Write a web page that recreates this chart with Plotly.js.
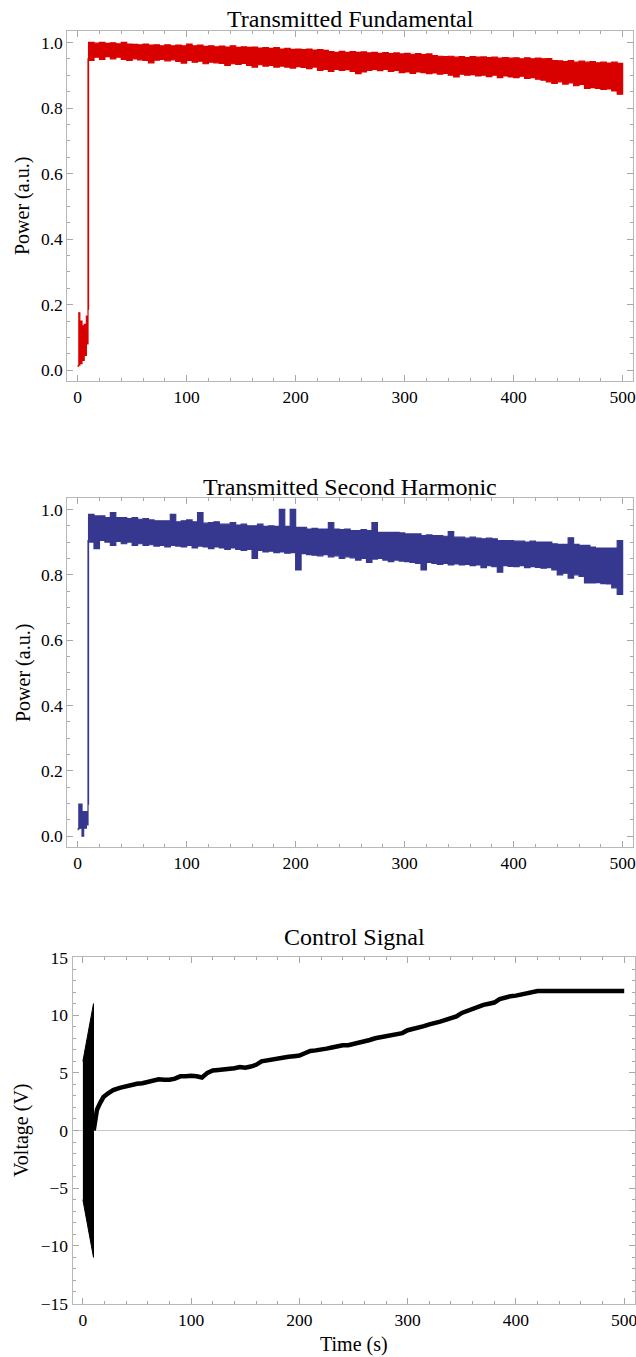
<!DOCTYPE html>
<html>
<head>
<meta charset="utf-8">
<script src="https://cdn.plot.ly/plotly-3.0.1.min.js"></script>
<style>html,body{margin:0;padding:0;background:#fff;}#chart{width:636px;height:1357px;}</style>
</head>
<body>
<div id="chart"></div>
<script>
// ---------- data ----------
const titles = ["Transmitted Fundamental", "Transmitted Second Harmonic", "Control Signal"];
const yLabels = ["Power (a.u.)", "Power (a.u.)", "Voltage (V)"];
const xLabel = "Time (s)";
const xTicks = [0, 100, 200, 300, 400, 500];

// sampling times (s) of the envelopes after lock
const tLock = [10,15,20,25,30,35,40,45,50,55,60,65,70,75,80,85,90,95,100,105,110,115,120,125,130,135,140,145,150,155,160,165,170,175,180,185,190,195,200,205,210,215,220,225,230,235,240,245,250,255,260,265,270,275,280,285,290,295,300,305,310,315,320,325,330,335,340,345,350,355,360,365,370,375,380,385,390,395,400,405,410,415,420,425,430,435,440,445,450,455,460,465,470,475,480,485,490,495,500];

// Transmitted fundamental: before lock
const fundT0 = [0.5, 2, 4, 6, 8, 9.5];
const fundUpper0 = [0.175, 0.15, 0.135, 0.14, 0.165, 0.186];
const fundLower0 = [0.01, 0.015, 0.02, 0.03, 0.045, 0.08];
// after lock (upper / lower edge of the noisy trace)
const fundUpper = [1.0,0.998,1.0,0.997,0.999,0.996,1.0,0.995,0.994,0.993,0.995,0.992,0.993,0.99,0.993,0.99,0.992,0.99,0.995,0.99,0.992,0.988,0.99,0.987,0.989,0.986,0.99,0.985,0.987,0.985,0.986,0.983,0.984,0.982,0.984,0.98,0.982,0.979,0.98,0.978,0.98,0.977,0.978,0.976,0.972,0.97,0.973,0.97,0.972,0.97,0.971,0.968,0.97,0.967,0.969,0.966,0.968,0.965,0.967,0.964,0.966,0.963,0.965,0.96,0.958,0.957,0.958,0.955,0.957,0.954,0.957,0.955,0.956,0.954,0.955,0.952,0.954,0.952,0.953,0.95,0.953,0.95,0.952,0.95,0.951,0.945,0.944,0.942,0.945,0.94,0.943,0.94,0.942,0.938,0.94,0.937,0.94,0.936,0.935];
const fundLower = [0.95,0.945,0.955,0.948,0.957,0.95,0.955,0.948,0.945,0.95,0.947,0.945,0.938,0.946,0.948,0.944,0.947,0.942,0.937,0.945,0.94,0.943,0.935,0.94,0.938,0.936,0.93,0.935,0.933,0.936,0.93,0.925,0.932,0.928,0.93,0.925,0.928,0.925,0.922,0.926,0.924,0.92,0.925,0.915,0.918,0.912,0.918,0.915,0.917,0.912,0.905,0.91,0.915,0.918,0.914,0.918,0.912,0.915,0.908,0.91,0.906,0.91,0.908,0.905,0.907,0.903,0.906,0.9,0.895,0.903,0.9,0.902,0.898,0.9,0.896,0.9,0.893,0.898,0.895,0.893,0.897,0.89,0.893,0.888,0.885,0.88,0.875,0.88,0.873,0.877,0.868,0.872,0.86,0.862,0.86,0.857,0.858,0.852,0.842];

// Transmitted second harmonic: before lock
const shgT0 = [0.5, 2, 4, 5.5, 6.5, 8, 9.5];
const shgUpper0 = [0.098, 0.098, 0.075, 0.075, 0.075, 0.075, 0.098];
const shgLower0 = [0.018, 0.023, 0.025, 0.0, 0.025, 0.025, 0.035];
// after lock
const shgUpper = [0.985,0.98,0.98,0.975,0.99,0.975,0.975,0.972,0.975,0.97,0.972,0.968,0.965,0.965,0.965,0.985,0.962,0.965,0.968,0.962,0.99,0.958,0.96,0.962,0.955,0.955,0.96,0.952,0.955,0.95,0.95,0.955,0.948,0.95,0.948,1.0,0.948,1.0,0.945,0.945,0.94,0.942,0.94,0.94,0.96,0.94,0.938,0.94,0.935,0.935,0.938,0.935,0.96,0.93,0.93,0.93,0.93,0.928,0.925,0.925,0.925,0.92,0.922,0.92,0.92,0.918,0.932,0.915,0.915,0.912,0.915,0.912,0.91,0.912,0.91,0.905,0.905,0.905,0.903,0.903,0.9,0.903,0.9,0.9,0.9,0.895,0.893,0.893,0.913,0.893,0.89,0.89,0.885,0.882,0.882,0.882,0.882,0.905,0.87];
const shgLower = [0.905,0.9,0.88,0.905,0.9,0.89,0.902,0.895,0.9,0.89,0.895,0.89,0.892,0.888,0.89,0.885,0.89,0.888,0.885,0.89,0.882,0.888,0.885,0.88,0.885,0.882,0.878,0.882,0.878,0.875,0.878,0.85,0.875,0.87,0.872,0.868,0.87,0.866,0.868,0.815,0.865,0.862,0.86,0.858,0.862,0.855,0.858,0.85,0.855,0.852,0.845,0.85,0.838,0.848,0.85,0.845,0.84,0.845,0.842,0.84,0.838,0.835,0.815,0.838,0.835,0.832,0.835,0.83,0.833,0.83,0.832,0.828,0.83,0.822,0.828,0.825,0.808,0.828,0.826,0.825,0.828,0.822,0.825,0.823,0.82,0.822,0.815,0.8,0.805,0.79,0.8,0.795,0.775,0.775,0.776,0.773,0.772,0.76,0.74];

// Control signal: sweep envelope before lock
const sweepT = [0, 9.8];
const sweepUpper = [6, 11];
const sweepLower = [-6, -11];
// control voltage after lock
const ctrlT = [10,11,13,16,19,23,28,34,40,45,50,55,60,65,70,75,80,85,90,95,100,105,110,115,120,125,130,135,140,145,150,155,160,165,170,175,180,185,190,195,200,205,210,215,220,225,230,235,240,245,250,255,260,265,270,275,280,285,290,295,300,305,310,315,320,325,330,335,340,345,350,355,360,365,370,375,380,385,390,395,400,405,410,415,420,430,440,450,460,470,480,490,500];
const ctrlV = [0.0,0.8,1.8,2.4,2.9,3.2,3.5,3.7,3.85,3.95,4.05,4.1,4.25,4.3,4.45,4.4,4.4,4.5,4.7,4.7,4.75,4.7,4.6,5.0,5.2,5.25,5.3,5.3,5.4,5.5,5.45,5.55,5.7,6.0,6.1,6.2,6.3,6.35,6.4,6.45,6.5,6.7,6.9,6.95,7.0,7.1,7.2,7.3,7.4,7.4,7.5,7.6,7.7,7.85,8.0,8.1,8.2,8.3,8.35,8.45,8.7,8.8,8.9,9.05,9.2,9.3,9.45,9.6,9.75,9.9,10.2,10.4,10.6,10.8,10.9,11.0,11.1,11.4,11.55,11.65,11.7,11.8,11.85,12.0,12.1,12.1,12.1,12.05,12.1,12.1,12.05,12.1,12.1];

// ---------- drawing ----------
const RED = '#d90000', BLUE = '#36378f', BLACK = '#000000';
const FONT = 'Liberation Serif, Times New Roman, serif';

function bandPolygon(t0, up0, lo0, t, up, lo) {
  const x = t0.concat(t);
  const yu = up0.concat(up);
  const yl = lo0.concat(lo);
  return { x: x.concat(x.slice().reverse()), y: yu.concat(yl.slice().reverse()) };
}

const b1 = bandPolygon(fundT0, fundUpper0, fundLower0, tLock, fundUpper, fundLower);
const b2 = bandPolygon(shgT0, shgUpper0, shgLower0, tLock, shgUpper, shgLower);
const sw = { x: sweepT.concat(sweepT.slice().reverse()), y: sweepUpper.concat(sweepLower.slice().reverse()) };

const traces = [
  { x: b1.x, y: b1.y, xaxis: 'x', yaxis: 'y', type: 'scatter', mode: 'lines', fill: 'toself',
    fillcolor: RED, line: { color: RED, width: 1.2, shape: 'hv' }, hoverinfo: 'skip' },
  { x: b2.x, y: b2.y, xaxis: 'x2', yaxis: 'y2', type: 'scatter', mode: 'lines', fill: 'toself',
    fillcolor: BLUE, line: { color: BLUE, width: 1.2, shape: 'hv' }, hoverinfo: 'skip' },
  { x: sw.x, y: sw.y, xaxis: 'x3', yaxis: 'y3', type: 'scatter', mode: 'lines', fill: 'toself',
    fillcolor: BLACK, line: { color: BLACK, width: 1 }, hoverinfo: 'skip' },
  { x: ctrlT, y: ctrlV, xaxis: 'x3', yaxis: 'y3', type: 'scatter', mode: 'lines',
    line: { color: BLACK, width: 4.5 }, hoverinfo: 'skip' }
];

const H = 1357, W = 636;
const FRAME = '#b8b8b8', TICK = '#a8a8a8';
function px(v) { return 1 - v / H; }

function xAxis(left, right, anchor) {
  return {
    domain: [left / W, right / W], anchor: anchor, range: [-9.5, 509.5],
    tickvals: xTicks, ticks: 'inside', ticklen: 6, tickwidth: 1, tickcolor: TICK,
    showline: true, linecolor: FRAME, linewidth: 1, mirror: 'ticks',
    showgrid: false, zeroline: false, ticklabeloverflow: 'allow',
    minor: { dtick: 20, tick0: 0, ticks: 'inside', ticklen: 3, tickcolor: TICK, showgrid: false },
    tickfont: { family: FONT, size: 17.5, color: '#000' }
  };
}
function yAxis(top, bottom, anchor, range, dtick, minor, fmt) {
  return {
    domain: [px(bottom), px(top)], anchor: anchor, range: range,
    dtick: dtick, tick0: 0, tickformat: fmt, ticks: 'inside', ticklen: 6, tickwidth: 1, tickcolor: TICK,
    showline: true, linecolor: FRAME, linewidth: 1, mirror: 'ticks',
    showgrid: false, zeroline: false, ticklabeloverflow: 'allow',
    minor: { dtick: minor, tick0: 0, ticks: 'inside', ticklen: 3, tickcolor: TICK, showgrid: false },
    tickfont: { family: FONT, size: 17.5, color: '#000' }
  };
}

const y3 = yAxis(957, 1304, 'x3', [-15.05, 15.05], 5, 1, 'd');
y3.zeroline = true; y3.zerolinecolor = '#c8c8c8'; y3.zerolinewidth = 1;

const TF = { family: FONT, size: 24, color: '#000' };
const LF = { family: FONT, size: 20, color: '#000' };
const annotations = [
  { text: titles[0], x: 350 / W, y: px(19), xref: 'paper', yref: 'paper', showarrow: false, xanchor: 'center', yanchor: 'middle', font: TF },
  { text: titles[1], x: 350 / W, y: px(487), xref: 'paper', yref: 'paper', showarrow: false, xanchor: 'center', yanchor: 'middle', font: TF },
  { text: titles[2], x: 354 / W, y: px(937), xref: 'paper', yref: 'paper', showarrow: false, xanchor: 'center', yanchor: 'middle', font: TF },
  { text: yLabels[0], x: 23 / W, y: px(206), xref: 'paper', yref: 'paper', showarrow: false, textangle: -90, xanchor: 'center', yanchor: 'middle', font: LF },
  { text: yLabels[1], x: 23 / W, y: px(673), xref: 'paper', yref: 'paper', showarrow: false, textangle: -90, xanchor: 'center', yanchor: 'middle', font: LF },
  { text: yLabels[2], x: 21 / W, y: px(1130), xref: 'paper', yref: 'paper', showarrow: false, textangle: -90, xanchor: 'center', yanchor: 'middle', font: LF },
  { text: xLabel, x: 354 / W, y: px(1344), xref: 'paper', yref: 'paper', showarrow: false, xanchor: 'center', yanchor: 'middle', font: LF }
];

const layout = {
  width: W, height: H,
  margin: { l: 0, r: 0, t: 0, b: 0 },
  paper_bgcolor: '#fff', plot_bgcolor: '#fff',
  showlegend: false,
  font: { family: FONT, color: '#000' },
  xaxis: xAxis(67.3, 633, 'y'),
  yaxis: yAxis(31, 381, 'x', [-0.033, 1.035], 0.2, 0.05, '.1f'),
  xaxis2: xAxis(67.3, 633, 'y2'),
  yaxis2: yAxis(498, 847, 'x2', [-0.033, 1.035], 0.2, 0.05, '.1f'),
  xaxis3: xAxis(72.6, 634.5, 'y3'),
  yaxis3: y3,
  annotations: annotations
};

Plotly.newPlot('chart', traces, layout, { staticPlot: true, displayModeBar: false });
</script>
</body>
</html>
